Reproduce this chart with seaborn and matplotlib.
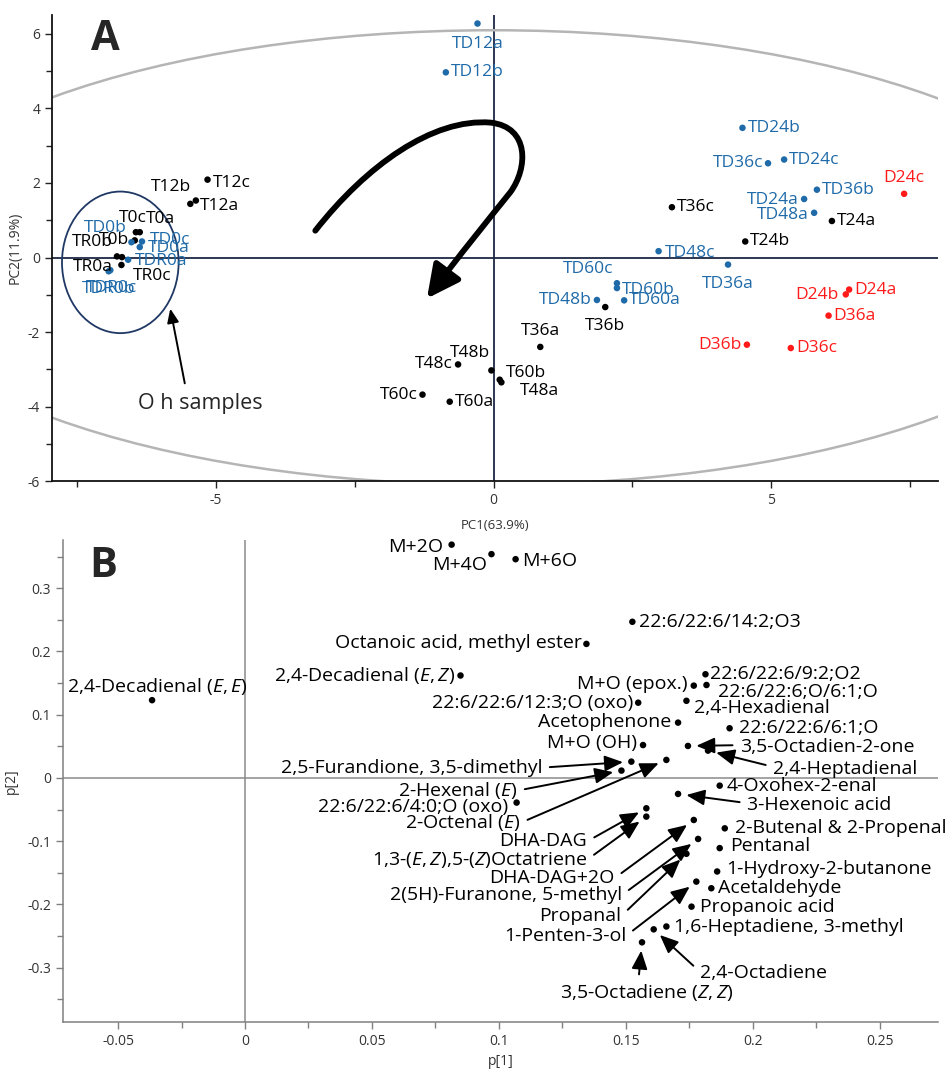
import numpy as np
import pandas as pd
import matplotlib
matplotlib.use("Agg")
import matplotlib.pyplot as plt
import seaborn as sns
from matplotlib.patches import Ellipse, FancyArrowPatch
from matplotlib.path import Path
from matplotlib.ticker import MultipleLocator, FuncFormatter

# ---------------- Panel A: PCA scores ----------------
score_names = ["T0a", "T0b", "T0c", "TR0a", "TR0b", "TR0c", "T12a", "T12b", "T12c",
               "T24a", "T24b", "T36a", "T36b", "T36c", "T48a", "T48b", "T48c",
               "T60a", "T60b", "T60c",
               "TD0a", "TD0b", "TD0c", "TDR0a", "TDR0b", "TDR0c", "TD12a", "TD12b",
               "TD24a", "TD24b", "TD24c", "TD36a", "TD36b", "TD36c", "TD48a", "TD48b",
               "TD48c", "TD60a", "TD60b", "TD60c",
               "D24a", "D24b", "D24c", "D36a", "D36b", "D36c"]
score_pc1 = [-6.37, -6.46, -6.44, -6.78, -6.69, -6.70, -5.36, -5.46, -5.15,
             6.09, 4.53, 0.84, 2.01, 3.21, 0.14, -0.04, -0.64,
             -0.79, 0.11, -1.28,
             -6.37, -6.52, -6.33, -6.58, -6.93, -6.90, -0.29, -0.86,
             5.59, 4.48, 5.23, 4.22, 5.82, 4.94, 5.77, 1.86,
             2.97, 2.35, 2.22, 2.22,
             6.40, 6.34, 7.39, 6.03, 4.56, 5.35]
score_pc2 = [0.68, 0.46, 0.68, 0.03, 0.01, -0.20, 1.53, 1.44, 2.09,
             0.98, 0.43, -2.40, -1.33, 1.35, -3.35, -3.03, -2.87,
             -3.87, -3.28, -3.68,
             0.28, 0.41, 0.43, -0.06, -0.37, -0.34, 6.28, 4.97,
             1.57, 3.48, 2.63, -0.19, 1.82, 2.53, 1.20, -1.14,
             0.17, -1.15, -0.82, -0.69,
             -0.86, -0.99, 1.71, -1.56, -2.34, -2.43]
score_group = ["T"] * 20 + ["TD"] * 20 + ["D"] * 6
group_colors = {"T": "#000000", "TD": "#1f6aa8", "D": "#ff1a1a"}

# label placement for panel A (pixel offsets, alignment)
a_label_pos = {
    "T0a": (6, 13, "left"), "T0b": (-6, 0, "right"), "T0c": (-3, 14, "center"),
    "TR0a": (-4, -11, "right"), "TR0b": (-9, 15, "right"), "TR0c": (11, -11, "left"),
    "T12a": (4, -5, "left"), "T12b": (-19, 17, "center"), "T12c": (5, -3, "left"),
    "T36a": (0, 16, "center"), "T36b": (0, -19, "center"), "T48a": (18, -9, "left"),
    "T48b": (-21, 17, "center"), "T48c": (-5, 0, "right"), "T60b": (6, 7, "left"),
    "T60c": (-5, 0, "right"),
    "TD0a": (8, -1, "left"), "TD0b": (-26, 14, "center"), "TD0c": (8, 1, "left"),
    "TDR0a": (7, -1, "left"), "TDR0b": (0, -18, "center"), "TDR0c": (1, -18, "center"),
    "TD12a": (0, -20, "center"), "TD24a": (-6, -1, "right"), "TD36a": (0, -19, "center"),
    "TD36c": (-5, 0, "right"), "TD48a": (-6, -2, "right"), "TD48b": (-5, 0, "right"),
    "TD48c": (6, -2, "left"), "TD60b": (5, -2, "left"), "TD60c": (-29, 14, "center"),
    "D24b": (-7, -1, "right"), "D24c": (0, 16, "center"), "D36b": (-5, 0, "right"),
}

# ---------------- Panel B: loadings ----------------
load_names = ["M+2O", "M+4O", "M+6O", "22:6/22:6/14:2;O3", "Octanoic acid, methyl ester",
              "2,4-Decadienal (E,Z)", "2,4-Decadienal (E,E)", "22:6/22:6/9:2;O2",
              "M+O (epox.)", "22:6/22:6;O/6:1;O", "22:6/22:6/12:3;O (oxo)",
              "2,4-Hexadienal", "Acetophenone", "22:6/22:6/6:1;O", "M+O (OH)",
              "3,5-Octadien-2-one", "2,4-Heptadienal", "2,5-Furandione, 3,5-dimethyl",
              "2-Hexenal (E)", "2-Octenal (E)", "4-Oxohex-2-enal", "3-Hexenoic acid",
              "22:6/22:6/4:0;O (oxo)", "DHA-DAG", "1,3-(E,Z),5-(Z)Octatriene",
              "DHA-DAG+2O", "2(5H)-Furanone, 5-methyl", "Propanal", "1-Penten-3-ol",
              "2-Butenal & 2-Propenal", "Pentanal", "1-Hydroxy-2-butanone",
              "Acetaldehyde", "Propanoic acid", "1,6-Heptadiene, 3-methyl",
              "2,4-Octadiene", "3,5-Octadiene (Z,Z)"]
load_p1 = [0.0814, 0.0971, 0.1066, 0.1526, 0.1345,
           0.0849, -0.0366, 0.1814,
           0.1768, 0.1818, 0.1549,
           0.1739, 0.1706, 0.1909, 0.1568,
           0.1745, 0.1824, 0.1522,
           0.1483, 0.1660, 0.1870, 0.1706,
           0.1070, 0.1581, 0.1581,
           0.1768, 0.1785, 0.1739, 0.1778,
           0.1890, 0.1870, 0.1860,
           0.1837, 0.1759, 0.1660,
           0.1610, 0.1564]
load_p2 = [0.369, 0.354, 0.346, 0.247, 0.212,
           0.162, 0.123, 0.164,
           0.146, 0.147, 0.119,
           0.122, 0.0875, 0.0786, 0.052,
           0.0506, 0.0432, 0.0258,
           0.0116, 0.0285, -0.0122, -0.0253,
           -0.039, -0.048, -0.0612,
           -0.0665, -0.0965, -0.120, -0.164,
           -0.0797, -0.111, -0.148,
           -0.1745, -0.2036, -0.235,
           -0.2395, -0.260]

pretty = {
    "2,4-Decadienal (E,Z)": r"2,4-Decadienal ($\mathit{E,Z}$)",
    "2,4-Decadienal (E,E)": r"2,4-Decadienal ($\mathit{E,E}$)",
    "2-Hexenal (E)": r"2-Hexenal ($\mathit{E}$)",
    "2-Octenal (E)": r"2-Octenal ($\mathit{E}$)",
    "1,3-(E,Z),5-(Z)Octatriene": r"1,3-($\mathit{E,Z}$),5-($\mathit{Z}$)Octatriene",
    "3,5-Octadiene (Z,Z)": r"3,5-Octadiene ($\mathit{Z,Z}$)",
}

# (dx, dy, ha, arrow?)
b_label_pos = {
    "M+2O": (-8, -2, "right", False), "M+4O": (-4, -11, "right", False),
    "M+6O": (7, -2, "left", False), "22:6/22:6/14:2;O3": (7, 0, "left", False),
    "Octanoic acid, methyl ester": (-5, 1, "right", False),
    "2,4-Decadienal (E,Z)": (-5, 0, "right", False),
    "2,4-Decadienal (E,E)": (5, 14, "center", False),
    "22:6/22:6/9:2;O2": (5, 0, "left", False), "M+O (epox.)": (-6, 2, "right", False),
    "22:6/22:6;O/6:1;O": (12, -7, "left", False),
    "22:6/22:6/12:3;O (oxo)": (-5, 0, "right", False),
    "2,4-Hexadienal": (8, -7, "left", False), "Acetophenone": (-7, 1, "right", False),
    "22:6/22:6/6:1;O": (9, 0, "left", False), "M+O (OH)": (-6, 2, "right", False),
    "3,5-Octadien-2-one": (52, -1, "left", True),
    "2,4-Heptadienal": (65, -18, "left", True),
    "2,5-Furandione, 3,5-dimethyl": (-89, -6, "right", True),
    "2-Hexenal (E)": (-104, -20, "right", True),
    "2-Octenal (E)": (-146, -63, "right", True),
    "4-Oxohex-2-enal": (7, 0, "left", False),
    "3-Hexenoic acid": (69, -11, "left", True),
    "22:6/22:6/4:0;O (oxo)": (-8, -4, "right", False),
    "DHA-DAG": (-59, -33, "right", True),
    "1,3-(E,Z),5-(Z)Octatriene": (-59, -43, "right", True),
    "DHA-DAG+2O": (-79, -58, "right", True),
    "2(5H)-Furanone, 5-methyl": (-76, -56, "right", True),
    "Propanal": (-65, -62, "right", True),
    "1-Penten-3-ol": (-70, -54, "right", True),
    "2-Butenal & 2-Propenal": (10, 0, "left", False),
    "Pentanal": (10, 2, "left", False),
    "1-Hydroxy-2-butanone": (9, 2, "left", False),
    "Acetaldehyde": (7, 0, "left", False),
    "Propanoic acid": (8, 0, "left", False),
    "1,6-Heptadiene, 3-methyl": (8, 0, "left", False),
    "2,4-Octadiene": (46, -44, "left", True),
    "3,5-Octadiene (Z,Z)": (5, -50, "center", True),
}

# ---------------- style ----------------
sns.set_theme(style="white")
plt.rcParams["font.family"] = ["Open Sans", "DejaVu Sans"]
plt.rcParams["mathtext.fontset"] = "custom"
plt.rcParams["mathtext.rm"] = "Open Sans"
plt.rcParams["mathtext.it"] = "Open Sans:italic"
plt.rcParams["axes.unicode_minus"] = False

fig = plt.figure(figsize=(9.47, 10.69), dpi=100)
axA = fig.add_axes([0.0549, 0.550, 0.9356, 0.436])
axB = fig.add_axes([0.0665, 0.044, 0.924, 0.451])

# ---------- Panel A ----------
dfA = pd.DataFrame({"name": score_names, "PC1": score_pc1, "PC2": score_pc2,
                    "group": score_group})
axA.set_xlim(-7.95, 8.0)
axA.set_ylim(-6.0, 6.51)
axA.axhline(0, color="#1c2742", lw=1.3, zorder=1)
axA.axvline(0, color="#1c2742", lw=1.3, zorder=1)
axA.add_patch(Ellipse((0, 0), width=22.4, height=12.2, fill=False,
                      edgecolor="#b5b5b5", lw=1.8, zorder=1))
axA.add_patch(Ellipse((-6.72, -0.13), width=2.1, height=3.8, fill=False,
                      edgecolor="#1f3864", lw=1.3, zorder=1))
sns.scatterplot(data=dfA, x="PC1", y="PC2", hue="group", palette=group_colors,
                s=22, edgecolor="none", legend=False, ax=axA, zorder=3)
for _, r in dfA.iterrows():
    dx, dy, ha = a_label_pos.get(r["name"], (5, 0, "left"))
    axA.annotate(r["name"], (r["PC1"], r["PC2"]), xytext=(dx, dy),
                 textcoords="offset pixels", ha=ha, va="center",
                 fontsize=12.5, color=group_colors[r["group"]], zorder=4)

# curved trajectory arrow
verts = [(-3.21, 0.72), (-2.3, 2.45), (-1.1, 3.75), (-0.05, 3.62),
         (0.65, 3.5), (0.62, 2.4), (0.30, 1.75),
         (-0.05, 1.1), (-0.65, 0.0), (-1.2, -1.1)]
codes = [Path.MOVETO] + [Path.CURVE4] * 9
arrow = FancyArrowPatch(path=Path(verts, codes), arrowstyle="-|>,head_length=0.9,head_width=0.45",
                        mutation_scale=22, lw=4.2, color="black", transform=axA.transData,
                        zorder=5)
axA.add_patch(arrow)

axA.annotate("", xy=(-5.83, -1.3), xytext=(-5.55, -3.45), textcoords="data",
             arrowprops=dict(arrowstyle="-|>,head_length=0.6,head_width=0.25",
                             lw=1.4, color="black", mutation_scale=14))
axA.text(-6.41, -3.93, "O h samples", fontsize=15.5, ha="left", va="center")
axA.text(0.06, 0.948, "A", transform=axA.transAxes, fontsize=30, fontweight="bold",
         ha="center", va="center")

axA.xaxis.set_major_locator(MultipleLocator(5))
axA.xaxis.set_minor_locator(MultipleLocator(2.5))
axA.yaxis.set_major_locator(MultipleLocator(2))
axA.yaxis.set_minor_locator(MultipleLocator(1))
axA.tick_params(which="both", direction="out", color="#222222", labelsize=10,
                labelcolor="#333333", bottom=True, left=True)
axA.tick_params(which="major", length=5, width=1)
axA.tick_params(which="minor", length=4, width=1)
axA.xaxis.set_major_formatter(FuncFormatter(lambda v, p: "%g" % v))
axA.yaxis.set_major_formatter(FuncFormatter(lambda v, p: "%g" % v))
for s in ["top", "right"]:
    axA.spines[s].set_visible(False)
for s in ["left", "bottom"]:
    axA.spines[s].set_color("#111111")
    axA.spines[s].set_linewidth(1.3)
axA.set_xlabel("PC1(63.9%)", fontsize=9.5, color="#333333", labelpad=8)
axA.set_ylabel("PC2(11.9%)", fontsize=10, color="#333333", labelpad=4)

# ---------- Panel B ----------
dfB = pd.DataFrame({"name": load_names, "p1": load_p1, "p2": load_p2})
axB.set_xlim(-0.0717, 0.273)
axB.set_ylim(-0.386, 0.3766)
axB.axhline(0, color="#8a8a8a", lw=1.1, zorder=1)
axB.axvline(0, color="#8a8a8a", lw=1.1, zorder=1)
sns.scatterplot(data=dfB, x="p1", y="p2", color="black", s=22, edgecolor="none",
                legend=False, ax=axB, zorder=3)
for _, r in dfB.iterrows():
    dx, dy, ha, arr = b_label_pos[r["name"]]
    txt = pretty.get(r["name"], r["name"])
    if arr:
        if ha == "right":
            rp = (1.0, 0.5)
        elif ha == "left":
            rp = (0.0, 0.6)
        else:
            rp = (0.45, 1.0)
        axB.annotate(txt, (r["p1"], r["p2"]), xytext=(dx, dy), textcoords="offset pixels",
                     ha=ha, va="center", fontsize=14, color="black", zorder=4,
                     arrowprops=dict(arrowstyle="-|>,head_length=0.7,head_width=0.3",
                                     lw=1.4, color="black", mutation_scale=16,
                                     shrinkA=3, shrinkB=6, relpos=rp))
    else:
        axB.annotate(txt, (r["p1"], r["p2"]), xytext=(dx, dy), textcoords="offset pixels",
                     ha=ha, va="center", fontsize=14, color="black", zorder=4)
axB.text(0.046, 0.945, "B", transform=axB.transAxes, fontsize=30, fontweight="bold",
         ha="center", va="center")

axB.xaxis.set_major_locator(MultipleLocator(0.05))
axB.xaxis.set_minor_locator(MultipleLocator(0.025))
axB.yaxis.set_major_locator(MultipleLocator(0.1))
axB.yaxis.set_minor_locator(MultipleLocator(0.05))
fmt = FuncFormatter(lambda v, p: "0" if abs(v) < 1e-9 else "%g" % round(v, 3))
axB.xaxis.set_major_formatter(fmt)
axB.yaxis.set_major_formatter(fmt)
axB.tick_params(which="both", direction="out", color="#808080", labelsize=10,
                labelcolor="#333333", bottom=True, left=True)
axB.tick_params(which="major", length=5, width=1)
axB.tick_params(which="minor", length=4, width=1)
for s in ["top", "right"]:
    axB.spines[s].set_visible(False)
for s in ["left", "bottom"]:
    axB.spines[s].set_color("#808080")
    axB.spines[s].set_linewidth(1.1)
axB.set_xlabel("p[1]", fontsize=10, color="#333333", labelpad=4)
axB.set_ylabel("p[2]", fontsize=10, color="#333333", labelpad=6)

fig.savefig("out.png", dpi=100)
